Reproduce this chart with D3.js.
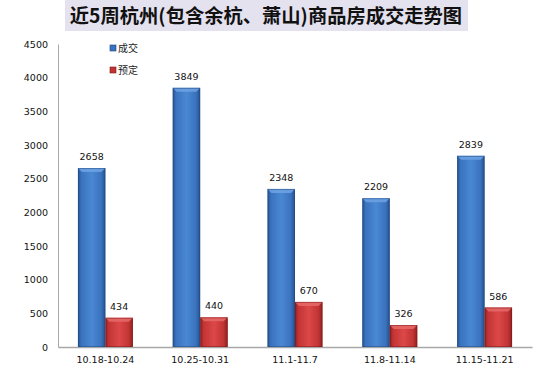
<!DOCTYPE html>
<html><head><meta charset="utf-8">
<script src="https://cdn.jsdelivr.net/npm/d3@7"></script>
<style>body{margin:0;background:#fff}svg{display:block}</style>
</head><body>
<script>
const title = "近5周杭州(包含余杭、萧山)商品房成交走势图";
const categories = ["10.18-10.24","10.25-10.31","11.1-11.7","11.8-11.14","11.15-11.21"];
const seriesNames = ["成交","预定"];
const deals = [2658,3849,2348,2209,2839];
const reserves = [434,440,670,326,586];
const yTicks = [0,500,1000,1500,2000,2500,3000,3500,4000,4500];

const W=560,H=370;
const m={l:58,r:28,t:44,b:23};
const svg=d3.select("body").append("svg").attr("width",W).attr("height",H);
const defs=svg.append("defs");
function grad(id,edge,mid,light){
  const g=defs.append("linearGradient").attr("id",id).attr("x1","0").attr("x2","1").attr("y1","0").attr("y2","0");
  g.append("stop").attr("offset","0").attr("stop-color",edge);
  g.append("stop").attr("offset","0.12").attr("stop-color",mid);
  g.append("stop").attr("offset","0.5").attr("stop-color",light);
  g.append("stop").attr("offset","0.85").attr("stop-color",mid);
  g.append("stop").attr("offset","1").attr("stop-color",edge);
}
grad("gb","#24508e","#3a72bd","#4a88d4");
grad("gr","#8e1f1f","#c23434","#dc4848");

const x0=d3.scaleBand().domain(categories).range([m.l,W-m.r]).paddingInner(0).paddingOuter(0);
const y=d3.scaleLinear().domain([0,4500]).range([H-m.b,m.t]);
const bw=27.5;

// title
svg.append("rect").attr("x",65).attr("y",0).attr("width",403).attr("height",31).attr("fill","#e5e2ef");
svg.append("text").attr("x",266).attr("y",23).attr("text-anchor","middle")
  .attr("font-family","'Noto Sans CJK SC'").attr("font-weight","bold").attr("font-size",19.3).attr("fill","#111").text(title);

// axes
const ya=svg.append("g").attr("transform",`translate(${m.l},0)`)
  .call(d3.axisLeft(y).tickValues(yTicks).tickSize(0).tickPadding(10).tickFormat(d3.format("d")));
ya.select(".domain").attr("stroke","#a8a8a8");
ya.selectAll("text").attr("font-family","'DejaVu Sans'").attr("font-size",9.5).attr("fill","#111");
const xa=svg.append("g").attr("transform",`translate(0,${y(0)})`)
  .call(d3.axisBottom(x0).tickSize(0).tickPadding(9));
xa.select(".domain").attr("stroke","#a8a8a8").attr("stroke-width",1.5);
xa.selectAll("text").attr("font-family","'DejaVu Sans'").attr("font-size",9.5).attr("fill","#111");

const series=[{name:seriesNames[0],vals:deals,g:"url(#gb)",stroke:"#1f477f",top:"#6fa3e3",off:-1},
              {name:seriesNames[1],vals:reserves,g:"url(#gr)",stroke:"#7a1a1a",top:"#e66a6a",off:0}];
series.forEach(s=>{
  const gg=svg.append("g");
  categories.forEach((c,i)=>{
    const cx=x0(c)+x0.bandwidth()/2;
    const xl=cx+s.off*bw;
    const yt=y(s.vals[i]);
    const h=y(0)-yt;
    gg.append("rect").attr("x",xl).attr("y",yt).attr("width",bw).attr("height",h).attr("fill",s.g);
    gg.append("path").attr("d",`M${xl},${yt}L${xl+bw},${yt}L${xl+bw-4},${yt+4}L${xl+4},${yt+4}Z`).attr("fill",s.top).attr("opacity",0.85);
    gg.append("rect").attr("x",xl+0.5).attr("y",yt+0.5).attr("width",bw-1).attr("height",h-1).attr("fill","none").attr("stroke",s.stroke).attr("stroke-width",0.8).attr("opacity",0.6);
    gg.append("text").attr("x",xl+bw/2).attr("y",yt-8).attr("text-anchor","middle")
      .attr("font-family","'DejaVu Sans'").attr("font-size",9.5).attr("fill","#111").text(s.vals[i]);
  });
});

// legend
const lg=svg.append("g");
[["#3a72bd","#1f477f"],["#c23434","#7a1a1a"]].forEach((c,i)=>{
  const yy=48+i*22;
  lg.append("rect").attr("x",110).attr("y",yy-3).attr("width",6).attr("height",6).attr("fill",c[0]).attr("stroke",c[1]).attr("stroke-width",0.6);
  lg.append("text").attr("x",118).attr("y",yy+4).attr("font-family","'Noto Sans CJK SC'").attr("font-size",10).attr("fill","#222").text(seriesNames[i]);
});
</script>
</body></html>
